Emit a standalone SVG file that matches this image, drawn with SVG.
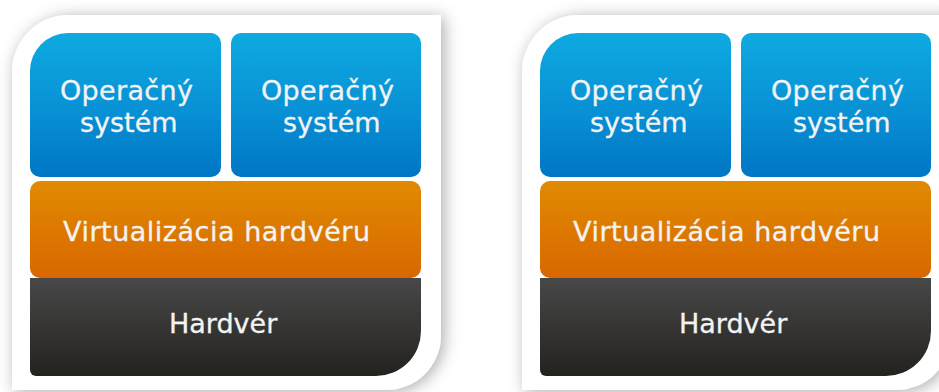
<svg xmlns="http://www.w3.org/2000/svg" width="939" height="392" viewBox="0 0 939 392">
  <defs>
    <linearGradient id="gBlue" x1="0" y1="0" x2="0" y2="1">
      <stop offset="0" stop-color="#0eaae0"/>
      <stop offset="0.55" stop-color="#0890d5"/>
      <stop offset="1" stop-color="#0076c4"/>
    </linearGradient>
    <linearGradient id="gOrange" x1="0" y1="0" x2="0" y2="1">
      <stop offset="0" stop-color="#e08b00"/>
      <stop offset="1" stop-color="#d96700"/>
    </linearGradient>
    <linearGradient id="gDark" x1="0" y1="0" x2="0" y2="1">
      <stop offset="0" stop-color="#484848"/>
      <stop offset="1" stop-color="#24221f"/>
    </linearGradient>
    <filter id="cardShadow" x="-10%" y="-10%" width="120%" height="120%">
      <feDropShadow dx="3" dy="2" stdDeviation="8" flood-color="#000" flood-opacity="0.33"/>
    </filter>
    <!-- one stack panel, reused twice -->
    <g id="panel">
      <path class="card" d="M12,72 A57,57 0 0 1 69,15 H441 V335 A55,55 0 0 1 386,390 H12 Z"/>
      <g id="hardware">
        <path fill="url(#gDark)" d="M30,278 H421 V331 A45,45 0 0 1 376,376 H36 A6,6 0 0 1 30,370 Z"/>
        <text class="lbl" x="169" y="333">Hardvér</text>
      </g>
      <g id="virtualization">
        <rect x="30" y="181" width="391" height="97" rx="10" fill="url(#gOrange)"/>
        <text class="lbl" x="63" y="241" textLength="307" lengthAdjust="spacing">Virtualizácia hardvéru</text>
      </g>
      <g id="os1">
        <path fill="url(#gBlue)" d="M30,71 A38,38 0 0 1 68,33 H211 A10,10 0 0 1 221,43 V167 A10,10 0 0 1 211,177 H40 A10,10 0 0 1 30,167 Z"/>
        <text class="lbl" x="60" y="100" textLength="133" lengthAdjust="spacing">Operačný</text>
        <text class="lbl" x="80" y="132">systém</text>
      </g>
      <g id="os2">
        <rect x="231" y="33" width="190" height="144" rx="10" fill="url(#gBlue)"/>
        <text class="lbl" x="261" y="100" textLength="133" lengthAdjust="spacing">Operačný</text>
        <text class="lbl" x="283" y="132">systém</text>
      </g>
    </g>
  </defs>
  <style>
    .card { fill: #ffffff; filter: url(#cardShadow); }
    .lbl { font-family: "DejaVu Sans", Verdana, sans-serif; font-size: 27px; fill: #f3f3f3; stroke: #f3f3f3; stroke-width: 0.3; }
  </style>
  <rect width="939" height="392" fill="#ffffff"/>
  <g id="panelLeft">
    <use href="#panel"/>
  </g>
  <g id="panelRight" transform="translate(510,0)">
    <use href="#panel"/>
  </g>
  <g id="connectors"/>
</svg>
